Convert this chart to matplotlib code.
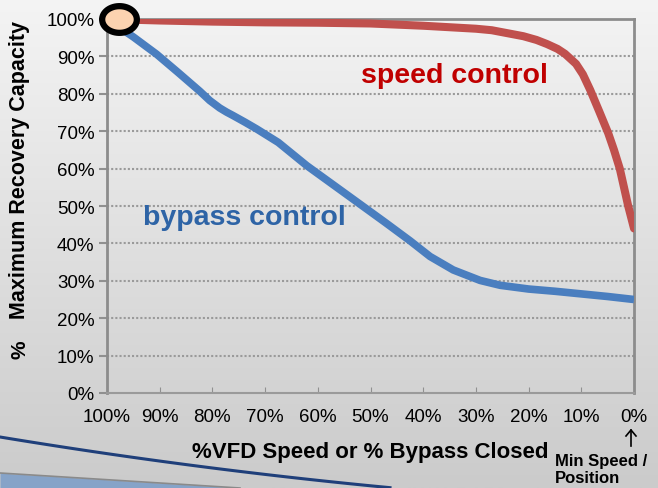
import numpy as np
import matplotlib.pyplot as plt
from matplotlib.path import Path
from matplotlib.colors import LinearSegmentedColormap

plt.rcParams['font.family'] = ['Liberation Sans', 'DejaVu Sans']

# % VFD speed / % bypass closed (x axis runs 100 -> 0)
speed_x = [100, 90, 80, 70, 60, 50, 45, 40, 35, 30, 27, 24, 21, 18.5, 16.5, 14.5,
           13.1, 11, 9.7, 8.3, 6.6, 4.9, 3.8, 2.7, 1.9, 1.1, 0]
speed_y = [100, 99.6, 99.3, 99.1, 99.0, 98.8, 98.5, 98.2, 97.8, 97.4, 97.0, 96.2,
           95.4, 94.4, 93.3, 92.0, 90.7, 88.0, 85.2, 81.0, 75.3, 69.5, 65.0, 60.0,
           55.0, 50.0, 44.0]

bypass_x = [100, 95, 90.6, 86.5, 82.4, 80.5, 78.6, 77.3, 76.1, 73.8, 71.6, 67.5,
            62.1, 57, 52, 47.2, 42.5, 38.7, 34.3, 29.2, 25.4, 20, 15, 10, 5, 0]
bypass_y = [100, 95.2, 90.6, 85.7, 80.7, 78.2, 76.2, 75.1, 74.2, 72.4, 70.6, 67.0,
            60.8, 55.6, 50.5, 45.6, 40.7, 36.5, 32.9, 30.1, 28.8, 27.8, 27.2, 26.5,
            25.8, 25.0]

xticks = [100, 90, 80, 70, 60, 50, 40, 30, 20, 10, 0]
yticks = [0, 10, 20, 30, 40, 50, 60, 70, 80, 90, 100]

W, H = 658, 489
fig = plt.figure(figsize=(W / 100, H / 100), dpi=100)

# slide background in pixel units: grey gradient and blue swoosh at the bottom
bg = fig.add_axes([0, 0, 1, 1], zorder=-10)
grad = np.linspace(0, 1, 256).reshape(-1, 1)
bg.imshow(grad, cmap=LinearSegmentedColormap.from_list('bg', ['#f4f4f4', '#cbcbcb']),
          aspect='auto', extent=[0, W, H, 0])
gx = np.linspace(0, 240, 30)
bg.fill_between(gx, H, 474 + gx * 15 / 240, color='#86a3c8', lw=0)
bg.plot(gx, 474 + gx * 15 / 240, color='#8a8a8a', lw=1.2)
sx = np.linspace(0, 390, 60)
bg.plot(sx, 438 + 0.165 * sx - 0.00009 * sx ** 2, color='#1f3f7a', lw=2.2)
bg.set_xlim(0, W)
bg.set_ylim(H, 0)
bg.axis('off')

ax = fig.add_axes([107 / W, 95 / H, 527 / W, 374 / H])
ax.set_facecolor('none')

ax.plot(bypass_x, bypass_y, color='#4a7ebf', lw=5.5, solid_capstyle='butt',
        solid_joinstyle='round', zorder=3)
ax.plot(speed_x, speed_y, color='#c0504d', lw=5.8, solid_capstyle='round',
        solid_joinstyle='round', zorder=3)

# slightly wide oval marker where both curves start
t = np.linspace(0, 2 * np.pi, 60)
oval = Path(np.column_stack([1.3 * np.cos(t), np.sin(t)]), closed=True)
ax.plot([97.8], [100], marker=oval, markersize=25, mfc='#fcd3b0', mec='black', mew=4.5,
        clip_on=False, zorder=5)

ax.set_xlim(100, 0)
ax.set_ylim(0, 100)
ax.set_xticks(xticks)
ax.set_xticklabels([str(t) + '%' for t in xticks], fontsize=13.5)
ax.set_yticks(yticks)
ax.set_yticklabels([str(t) + '%' for t in yticks], fontsize=13.5)
ax.tick_params(axis='x', direction='in', length=4, color='#909090', pad=11)
ax.tick_params(axis='y', direction='out', length=6, width=1.5, color='#909090', pad=3)

for y in yticks[1:-1]:
    ax.axhline(y, color='#9a9a9a', lw=1.5, ls=(0, (1, 1)), zorder=1)

for side in ['top', 'right', 'left']:
    ax.spines[side].set_color('#8c8c8c')
    ax.spines[side].set_linewidth(2)
ax.spines['bottom'].set_color('#9a9a9a')
ax.spines['bottom'].set_linewidth(1.5)
ax.spines['bottom'].set_linestyle((0, (1, 1)))

ax.text(34, 85, 'speed control', color='#c00000', fontsize=20.5, fontweight='bold',
        ha='center', va='center')
ax.text(74, 47, 'bypass control', color='#2e64a6', fontsize=20.5, fontweight='bold',
        ha='center', va='center')

ax.set_xlabel('%VFD Speed or % Bypass Closed', fontsize=16, fontweight='bold', labelpad=11)

fig.text(20 / W, 1 - 350 / H, '%', rotation=90, fontsize=15, fontweight='bold',
         ha='center', va='center')
fig.text(20 / W, 1 - 170 / H, 'Maximum Recovery Capacity', rotation=90, fontsize=15.5,
         fontweight='bold', ha='center', va='center')

fig.text(555 / W, 1 - 462 / H, 'Min Speed /', fontsize=12, fontweight='bold',
         ha='left', va='center')
fig.text(555 / W, 1 - 479 / H, 'Position', fontsize=12, fontweight='bold',
         ha='left', va='center')
fig.add_artist(plt.Line2D([631 / W, 631 / W], [1 - 447 / H, 1 - 431 / H],
                          color='black', lw=1.2))
fig.add_artist(plt.Line2D([626 / W, 631 / W, 636 / W],
                          [1 - 437 / H, 1 - 431 / H, 1 - 437 / H], color='black', lw=1.2))

fig.savefig('out.png', dpi=100)
